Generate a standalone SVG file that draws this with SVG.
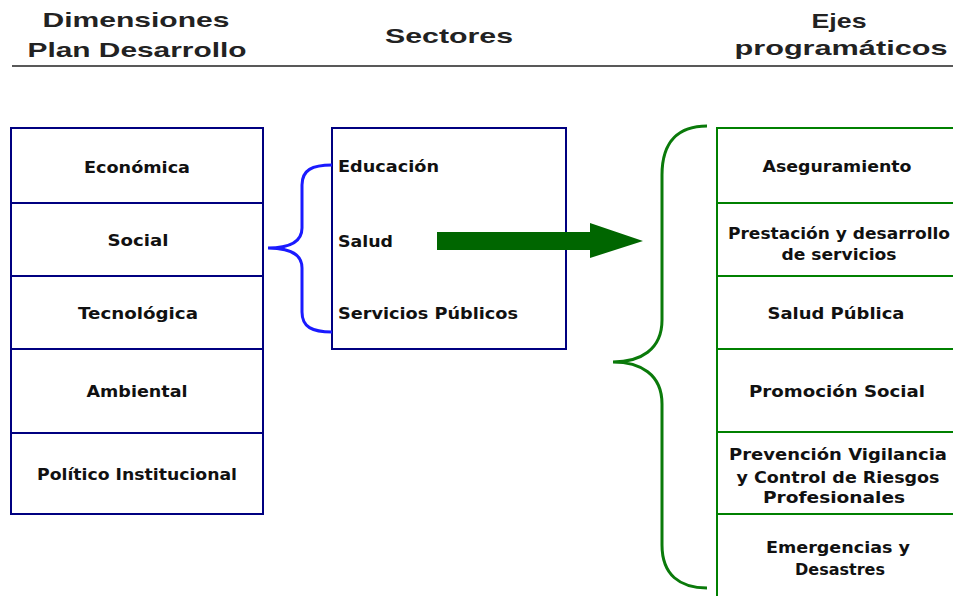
<svg xmlns="http://www.w3.org/2000/svg" width="953" height="596" viewBox="0 0 953 596">
<style>
.hdr{font-family:"Liberation Sans",Arial,sans-serif;font-weight:bold;font-size:21px;fill:#222;text-anchor:middle}
.lbl{font-family:"DejaVu Sans",Verdana,sans-serif;font-weight:bold;font-size:16px;fill:#111;text-anchor:middle}
.lbs{font-family:"DejaVu Sans",Verdana,sans-serif;font-weight:bold;font-size:16px;fill:#111}
.nb{fill:#fff;stroke:#000080;stroke-width:2}
.gb{fill:#fff;stroke:#008000;stroke-width:2}
.nl{stroke:#000080;stroke-width:2}
.gl{stroke:#008000;stroke-width:2}
</style>
<rect width="953" height="596" fill="#fff"/>
<g id="headers">
<text class="hdr" x="136" y="27" textLength="187" lengthAdjust="spacingAndGlyphs">Dimensiones</text>
<text class="hdr" x="137" y="57" textLength="219" lengthAdjust="spacingAndGlyphs">Plan Desarrollo</text>
<text class="hdr" x="449" y="43" textLength="128" lengthAdjust="spacingAndGlyphs">Sectores</text>
<text class="hdr" x="839" y="28" textLength="55" lengthAdjust="spacingAndGlyphs">Ejes</text>
<text class="hdr" x="841" y="55" textLength="213" lengthAdjust="spacingAndGlyphs">programáticos</text>
<line x1="12" y1="66" x2="953" y2="66" stroke="#222" stroke-width="1.5"/>
</g>
<g id="dimensiones">
<rect class="nb" x="11" y="128" width="252" height="386"/>
<line class="nl" x1="11" y1="203" x2="263" y2="203"/>
<line class="nl" x1="11" y1="276" x2="263" y2="276"/>
<line class="nl" x1="11" y1="349" x2="263" y2="349"/>
<line class="nl" x1="11" y1="433" x2="263" y2="433"/>
<text class="lbl" x="137" y="173" textLength="106" lengthAdjust="spacingAndGlyphs">Económica</text>
<text class="lbl" x="138" y="246" textLength="61" lengthAdjust="spacingAndGlyphs">Social</text>
<text class="lbl" x="138" y="319" textLength="120" lengthAdjust="spacingAndGlyphs">Tecnológica</text>
<text class="lbl" x="137" y="397" textLength="101" lengthAdjust="spacingAndGlyphs">Ambiental</text>
<text class="lbl" x="137" y="480" textLength="200" lengthAdjust="spacingAndGlyphs">Político Institucional</text>
</g>
<g id="sectores">
<rect class="nb" x="332" y="128" width="234" height="221"/>
<text class="lbs" x="338" y="172" textLength="101" lengthAdjust="spacingAndGlyphs">Educación</text>
<text class="lbs" x="338" y="247" textLength="55" lengthAdjust="spacingAndGlyphs">Salud</text>
<text class="lbs" x="338" y="319" textLength="180" lengthAdjust="spacingAndGlyphs">Servicios Públicos</text>
</g>
<g id="ejes">
<rect class="gb" x="717" y="128" width="260" height="490"/>
<line class="gl" x1="717" y1="203" x2="953" y2="203"/>
<line class="gl" x1="717" y1="276" x2="953" y2="276"/>
<line class="gl" x1="717" y1="349" x2="953" y2="349"/>
<line class="gl" x1="717" y1="432" x2="953" y2="432"/>
<line class="gl" x1="717" y1="514" x2="953" y2="514"/>
<text class="lbl" x="837" y="172" textLength="149" lengthAdjust="spacingAndGlyphs">Aseguramiento</text>
<text class="lbl" x="839" y="239" textLength="222" lengthAdjust="spacingAndGlyphs">Prestación y desarrollo</text>
<text class="lbl" x="839" y="260" textLength="115" lengthAdjust="spacingAndGlyphs">de servicios</text>
<text class="lbl" x="836" y="319" textLength="137" lengthAdjust="spacingAndGlyphs">Salud Pública</text>
<text class="lbl" x="837" y="397" textLength="176" lengthAdjust="spacingAndGlyphs">Promoción Social</text>
<text class="lbl" x="838" y="460" textLength="218" lengthAdjust="spacingAndGlyphs">Prevención Vigilancia</text>
<text class="lbl" x="838" y="483" textLength="203" lengthAdjust="spacingAndGlyphs">y Control de Riesgos</text>
<text class="lbl" x="834" y="503" textLength="142" lengthAdjust="spacingAndGlyphs">Profesionales</text>
<text class="lbl" x="838" y="553" textLength="144" lengthAdjust="spacingAndGlyphs">Emergencias y</text>
<text class="lbl" x="840" y="575" textLength="90" lengthAdjust="spacingAndGlyphs">Desastres</text>
</g>
<g id="connectors" fill="none">
<path d="M332,165 C312,165 302,170 302,185 L302,228 C302,242 290,248 268,248 C290,248 302,254 302,268 L302,312 C302,327 312,332 332,332" stroke="#1a1aff" stroke-width="3"/>
<polygon points="437,232 590,232 590,223 643,241 590,258 590,250 437,250" fill="#006600"/>
<path d="M707,126 C680,126 662,140 662,175 L662,320 C662,350 640,362 613,362 C640,362 662,374 662,404 L662,545 C662,575 680,588 707,588" stroke="#0a7a0a" stroke-width="3"/>
</g>
</svg>
